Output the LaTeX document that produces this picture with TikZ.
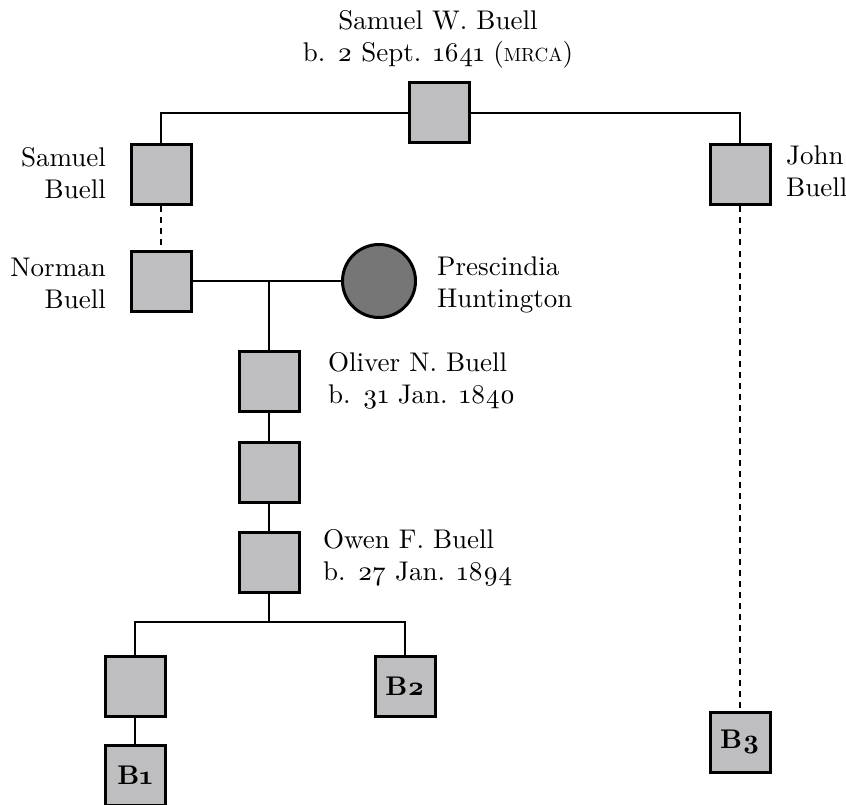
\documentclass[tikz,border=0pt]{standalone}
\usepackage{fontspec}
\setmainfont{lmroman10-regular.otf}[BoldFont=lmroman10-bold.otf,Numbers=OldStyle]
\definecolor{boxgray}{HTML}{BEBEC0}
\definecolor{circgray}{HTML}{767676}
\newcommand{\bigtext}{\fontsize{27}{32}\selectfont}

\tikzstyle{male}=[rectangle,draw=black,fill=boxgray,line width=3pt,minimum size=60pt,inner sep=0pt,font=\bigtext\bfseries]
\tikzstyle{female}=[circle,draw=black,fill=circgray,line width=3pt,minimum size=73pt,inner sep=0pt]
\tikzstyle{lbl}=[inner sep=0pt,font=\bigtext]
\tikzstyle{link}=[line width=2.5pt]
\tikzstyle{gap}=[line width=2.5pt,dash pattern=on 6pt off 5pt]

\begin{document}
\begin{tikzpicture}[x=1pt,y=-1pt]
    \useasboundingbox (0,0) rectangle (846,805);

    \node[male] (n1) at (439,113) {};
    \node[male] (n2) at (161,175) {};
    \node[male] (n3) at (740,175) {};
    \node[male] (n4) at (161,281) {};
    \node[female] (n5) at (379,281) {};
    \node[male] (n6) at (269,381) {};
    \node[male] (n7) at (269,472) {};
    \node[male] (n8) at (269,562) {};
    \node[male] (n9) at (135,686) {};
    \node[male] (n10) at (405,686) {B2};
    \node[male] (n11) at (135,775) {B1};
    \node[male] (n12) at (740,742) {B3};
    \coordinate (m1) at (269,281);
    \coordinate (m2) at (269,622);

    \node[lbl,align=center] (t1) at (438,39) {Samuel W. Buell\\b. 2 Sept. 1641 ({\fontsize{19}{32}\selectfont MRCA})};
    \node[lbl,align=right,anchor=east] (t2) at (106,173) {Samuel\\Buell};
    \node[lbl,align=right,anchor=east] (t4) at (106,283) {Norman\\Buell};
    \node[lbl,align=left,anchor=west] (t3) at (786,171) {John\\Buell};
    \node[lbl,align=left,anchor=west] (t5) at (437,285) {Prescindia\\Huntington};
    \node[lbl,align=left,anchor=west] (t6) at (328,381) {Oliver N. Buell\\b. 31 Jan. 1840};
    \node[lbl,align=left,anchor=west] (t8) at (323,558) {Owen F. Buell\\b. 27 Jan. 1894};

    \draw[link] (n2) |- (n1) -| (n3);
    \draw[gap] (n2) -- (n4);
    \draw[gap] (n3) -- (n12);
    \draw[link] (n4) -- (n5);
    \draw[link] (m1) -- (n6);
    \draw[link] (n6) -- (n7);
    \draw[link] (n7) -- (n8);
    \draw[link] (n8) -- (m2);
    \draw[link] (n9) |- (m2) -| (n10);
    \draw[link] (n9) -- (n11);

\end{tikzpicture}
\end{document}
